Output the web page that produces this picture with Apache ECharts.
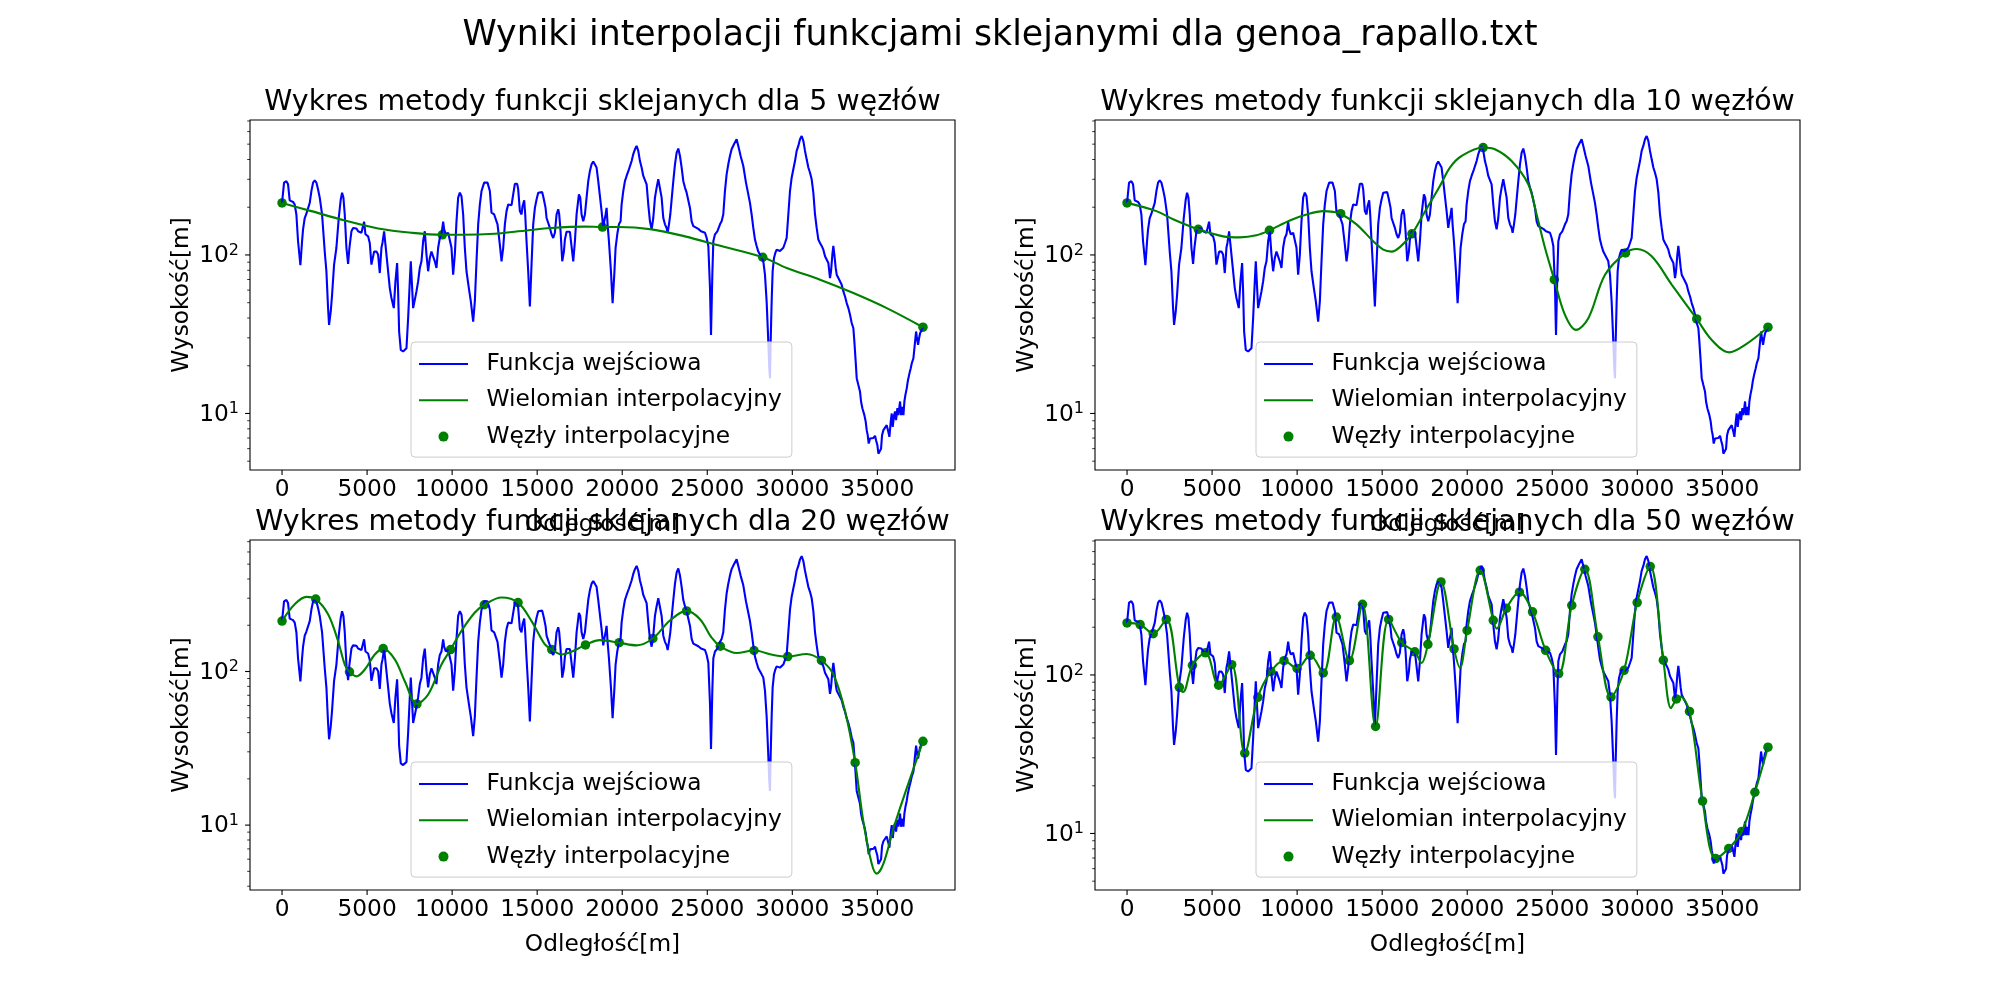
<!DOCTYPE html>
<html>
<head>
<meta charset="utf-8">
<title>Wyniki interpolacji funkcjami sklejanymi dla genoa_rapallo.txt</title>
<script src="https://cdn.jsdelivr.net/npm/echarts@6/dist/echarts.min.js"></script>
<style>
html, body { margin: 0; padding: 0; background: #fff; }
#chart { width: 2000px; height: 1000px; }
</style>
</head>
<body>
<div id="chart"></div>
<script>
// elevation profile Genoa -> Rapallo, [distance m, height m]
var profile = [
[0,213],[118,286],[255,292],[353,279],[451,221],[647,216],[745,208],[843,180],[941,122],[1079,86.1],[1177,122],[1235,145],[1333,171],[1432,182],[1530,185],[1628,213],[1726,253],[1824,286],[1922,295],[2020,286],[2118,259],[2216,230],[2353,180],[2510,105],[2608,78.9],[2706,46.2],[2765,36.2],[2863,44.0],[2942,56.1],[3059,86.9],[3196,111],[3334,171],[3451,224],[3530,247],[3608,230],[3687,180],[3785,111],[3883,87.7],[3961,111],[4079,141],[4177,148],[4275,145],[4373,147],[4471,141],[4569,145],[4667,138],[4765,141],[4824,162],[4903,135],[5059,131],[5157,119],[5255,86.9],[5354,86.9],[5412,105],[5550,105],[5648,100.5],[5746,76.9],[5844,111],[5903,119],[6001,141],[6079,116],[6197,86.9],[6334,61.8],[6432,53.5],[6569,46.2],[6667,68.1],[6765,89.0],[6824,58.9],[6883,32.9],[6981,25.2],[7118,24.6],[7216,25.2],[7315,25.8],[7413,39.9],[7511,68.1],[7569,91.2],[7648,61.8],[7707,46.2],[7805,52.1],[7903,58.9],[8001,68.1],[8099,82.8],[8197,91.2],[8295,122],[8393,141],[8491,100.5],[8589,78.9],[8687,95.8],[8785,105],[8883,108],[8981,91.2],[9079,82.8],[9177,111],[9275,128],[9374,135],[9472,162],[9530,145],[9629,135],[9766,138],[9864,138],[9962,111],[10060,75.1],[10158,100.5],[10256,163],[10354,230],[10452,247],[10550,235],[10648,180],[10746,111],[10844,78.9],[10982,61.8],[11099,50.9],[11236,38.0],[11335,50.9],[11433,91.2],[11531,156],[11629,208],[11727,253],[11884,286],[11962,292],[12080,286],[12217,253],[12315,185],[12472,180],[12570,176],[12668,156],[12805,116],[12904,91.2],[13002,111],[13100,156],[13198,189],[13296,208],[13394,210],[13492,206],[13590,241],[13688,281],[13825,281],[13884,259],[13982,189],[14080,180],[14139,203],[14237,221],[14296,180],[14374,122],[14472,78.9],[14570,47.3],[14668,86.9],[14766,156],[14865,198],[14963,224],[15061,247],[15159,249],[15296,249],[15394,224],[15492,198],[15551,171],[15649,176],[15747,148],[15845,135],[15943,128],[16041,138],[16139,180],[16237,194],[16296,180],[16374,141],[16473,91.2],[16571,105],[16629,125],[16727,140],[16826,141],[16924,140],[17022,138],[17120,91.2],[17218,122],[17316,180],[17453,241],[17531,230],[17610,180],[17708,163],[17806,180],[17904,230],[18002,292],[18100,339],[18198,373],[18296,388],[18394,391],[18492,356],[18590,292],[18688,235],[18787,189],[18885,148],[18943,163],[19022,180],[19081,198],[19139,156],[19218,122],[19336,78.9],[19434,49.7],[19532,75.1],[19610,111],[19708,135],[19806,156],[19904,163],[19963,208],[20061,253],[20159,292],[20257,315],[20395,347],[20551,391],[20649,432],[20748,464],[20846,487],[20944,453],[21042,391],[21140,356],[21238,315],[21336,307],[21434,279],[21532,208],[21630,163],[21728,145],[21826,171],[21924,230],[22022,266],[22120,300],[22218,292],[22316,230],[22414,171],[22512,156],[22610,148],[22669,138],[22748,156],[22826,180],[22905,224],[23003,292],[23101,373],[23199,442],[23297,469],[23395,421],[23493,356],[23591,292],[23689,266],[23787,247],[23885,253],[23983,198],[24081,163],[24179,152],[24277,148],[24473,146],[24630,141],[24709,143],[24866,138],[24964,128],[25062,114],[25160,61.8],[25219,31.3],[25297,75.1],[25356,122],[25454,135],[25591,141],[25748,156],[25843,163],[25941,180],[26039,253],[26137,322],[26235,373],[26333,421],[26431,464],[26569,499],[26726,537],[26824,487],[26961,421],[27118,364],[27275,286],[27412,241],[27510,213],[27608,180],[27706,148],[27804,125],[27902,114],[28000,105],[28098,103],[28196,95.8],[28294,91.2],[28392,75.1],[28490,50.9],[28588,28.4],[28647,19.3],[28687,16.7],[28726,28.4],[28785,50.9],[28843,78.9],[28922,95.8],[29000,103],[29079,108],[29177,105],[29275,106],[29373,105],[29471,111],[29569,119],[29667,128],[29765,180],[29863,253],[29961,307],[30059,347],[30157,391],[30255,453],[30353,487],[30451,537],[30549,563],[30648,524],[30746,453],[30844,401],[30942,356],[31040,330],[31138,300],[31236,247],[31334,180],[31432,148],[31530,125],[31628,119],[31726,114],[31824,108],[31922,98.2],[32020,95.8],[32118,89.0],[32216,71.5],[32275,78.9],[32354,100.5],[32412,114],[32471,100.5],[32550,82.8],[32609,75.1],[32707,71.5],[32805,69.8],[32903,64.9],[33001,58.9],[33099,54.7],[33197,49.7],[33295,46.2],[33393,41.9],[33491,37.2],[33589,34.5],[33648,28.4],[33726,21.2],[33785,16.7],[33883,15.1],[33981,13.7],[34040,11.9],[34118,10.8],[34177,11.0],[34236,9.76],[34315,8.86],[34373,7.85],[34432,7.30],[34491,6.46],[34570,6.95],[34668,7.12],[34766,7.01],[34864,7.23],[34922,6.78],[35001,6.31],[35060,5.58],[35158,5.66],[35217,6.00],[35276,7.30],[35354,7.85],[35452,8.04],[35550,8.44],[35648,7.65],[35707,7.12],[35785,8.86],[35844,10.0],[35903,8.24],[35981,9.76],[36040,10.3],[36099,9.07],[36178,10.8],[36236,9.76],[36334,11.9],[36393,9.76],[36472,11.0],[36531,9.76],[36589,11.9],[36648,13.1],[36727,14.4],[36785,15.9],[36884,17.9],[36962,19.3],[37021,20.7],[37119,22.3],[37217,28.4],[37276,32.9],[37315,30.6],[37393,27.1],[37452,29.8],[37511,32.1],[37609,33.7],[37680,35.0]
];

// interpolation nodes
var nodes5 = [[0,213],[9420,134],[18840,150],[28260,96.7],[37680,35]];
var nodes10 = [[0,213],[4187,145],[8373,143],[12560,182],[16747,136],[20933,476],[25120,69.8],[29307,103],[33493,39.5],[37680,35]];
var nodes20 = [[0,213],[1982,296],[3964,99.5],[5946,141],[7928,61.5],[9910,139],[11892,272],[13874,281],[15856,139],[17838,149],[19820,154],[21802,164],[23784,248],[25766,146],[27748,137],[29730,125],[31712,118],[33694,25.5],[37680,35.1]];
var nodes50 = [[0,213],[769,208],[1538,182],[2307,224],[3076,83.5],[3845,115],[4614,138],[5383,86.1],[6152,116],[6921,32.1],[7690,72.3],[8459,105],[9228,123],[9997,110],[10766,133],[11535,103],[12304,232],[13073,123],[13842,279],[14611,47.3],[15380,224],[16149,160],[16918,140],[17687,156],[18456,386],[19225,146],[19994,191],[20763,457],[21532,221],[22301,263],[23070,333],[23839,250],[24608,143],[25377,102],[26146,275],[26915,464],[27684,174],[28453,72.6],[29222,107],[29991,286],[30760,483],[31529,124],[32298,70.5],[33067,58.9],[33836,16.0],[34605,6.95],[35374,8.04],[36143,10.3],[36912,18.2],[37680,35.0]];

// spline values read between the nodes
var curve5Extra = [[1726,189],[3687,165],[5648,147],[7609,138],[10550,134],[12511,136],[13884,141],[15845,148],[17806,151],[19767,150],[21728,145],[23689,131],[25650,115],[29667,82.8],[31628,69.8],[33589,57.5],[35550,46.2]];
var curve10Extra = [[1726,189],[2706,168],[5648,131],[6628,129],[7609,133],[9570,165],[10550,180],[11531,189],[12119,187],[13492,156],[14472,122],[15061,108],[15551,105],[16041,112],[17414,180],[18394,272],[18982,356],[19668,421],[21629,464],[22609,391],[23590,279],[24080,180],[24570,111],[25747,41.9],[26394,33.7],[27120,39.9],[28100,75],[29963,109],[30845,98],[32021,65],[34375,29.1],[35395,24.3],[36336,27.1]];
var curve20Extra = [[745,274],[1432,306],[2706,236],[3294,158],[3687,111],[4373,93],[4863,103],[5452,129],[6628,120],[7216,86.5],[8589,70.8],[9374,111],[10550,184],[11335,242],[12903,303],[14668,213],[15453,150],[16433,129],[17120,136],[18687,160],[20844,148],[22805,215],[24570,219],[25256,166],[26727,132],[28884,128],[30845,130],[32414,95.6],[33100,55.1],[34179,10.5],[34669,5.61],[34963,4.83],[35356,5.61],[35944,9.5],[36728,17.4]];
var curve50Extra = [[3294,78],[17316,119],[19571,111],[21728,196],[31981,61.8],[32510,73.2]];

var nodeCounts = [5, 10, 20, 50];
var xTicks = [0, 5000, 10000, 15000, 20000, 25000, 30000, 35000];
var yMajor = [10, 100];
var yMinor = [2,3,4,5,6,7,8,9,20,30,40,50,60,70,80,90,200,300,400,500,600,700,800,900];

var FONT = 'DejaVu Sans';
var FS = 23.3;
var X_MIN = -1884, X_MAX = 39564;
var LINE_ICON = 'path://M0,0L49,0L49,2.1L0,2.1Z';

var panels = [
    {left: 250, top: 120, nodes: nodes5, extra: curve5Extra, yMin: 4.40, yMax: 710},
    {left: 1095, top: 120, nodes: nodes10, extra: curve10Extra, yMin: 4.40, yMax: 710},
    {left: 250, top: 540, nodes: nodes20, extra: curve20Extra, yMin: 3.78, yMax: 718},
    {left: 1095, top: 540, nodes: nodes50, extra: curve50Extra, yMin: 4.40, yMax: 710}
];
var W = 705, H = 350;

function merged(nodes, extra) {
    return nodes.concat(extra).sort(function (a, b) { return a[0] - b[0]; });
}

// matplotlib-like outward ticks (major x, major y, minor y)
function tickRenderer(yMin) {
    return function (params, api) {
        var kind = api.value(0), v = api.value(1), p, shape;
        if (kind === 0) {
            p = api.coord([v, yMin]);
            shape = {x1: p[0], y1: p[1], x2: p[0], y2: p[1] + 4.9};
        } else {
            p = api.coord([X_MIN, v]);
            var len = kind === 1 ? 4.9 : 2.8;
            shape = {x1: p[0] - len, y1: p[1], x2: p[0], y2: p[1]};
        }
        return {type: 'line', shape: shape, style: {stroke: '#000', lineWidth: kind === 2 ? 0.8 : 1.1}};
    };
}

var grids = [], xAxes = [], yAxes = [], series = [], legends = [], texts = [];

texts.push({
    type: 'text', x: 1000, y: 36,
    style: {text: 'Wyniki interpolacji funkcjami sklejanymi dla genoa_rapallo.txt', font: '34.7px "DejaVu Sans"', fill: '#000',
        align: 'center', verticalAlign: 'middle', textAlign: 'center', textVerticalAlign: 'middle'}
});

panels.forEach(function (p, i) {
    grids.push({left: p.left, top: p.top, width: W, height: H, show: true, borderColor: '#000', borderWidth: 1.1, containLabel: false});
    xAxes.push({
        type: 'value', gridIndex: i, min: X_MIN, max: X_MAX, splitNumber: 8,
        name: 'Odległość[m]', nameLocation: 'middle', nameGap: 43,
        nameTextStyle: {fontSize: FS, fontFamily: FONT, color: '#000'},
        axisLine: {show: false}, axisTick: {show: false}, splitLine: {show: false},
        axisLabel: {
            fontSize: FS, fontFamily: FONT, color: '#000', margin: 8,
            showMinLabel: false, showMaxLabel: false,
            formatter: function (v) { return (v >= 0 && v % 5000 === 0) ? String(v) : ''; }
        }
    });
    yAxes.push({
        type: 'log', logBase: 10, gridIndex: i, min: p.yMin, max: p.yMax,
        name: 'Wysokość[m]', nameLocation: 'middle', nameGap: 57, nameRotate: 90,
        nameTextStyle: {fontSize: FS, fontFamily: FONT, color: '#000'},
        axisLine: {show: false}, axisTick: {show: false}, splitLine: {show: false}, minorTick: {show: false},
        axisLabel: {
            fontSize: FS, fontFamily: FONT, color: '#000', margin: 11,
            formatter: function (v) {
                var e = Math.log10(v);
                if (Math.abs(e - Math.round(e)) < 1e-6) return '{b|10}{s|' + Math.round(e) + '}';
                return '';
            },
            rich: {
                b: {fontSize: FS, fontFamily: FONT, color: '#000', lineHeight: 25, verticalAlign: 'bottom'},
                s: {fontSize: 16, fontFamily: FONT, color: '#000', verticalAlign: 'top'}
            }
        }
    });
    series.push({
        type: 'line', name: 'Funkcja wejściowa', xAxisIndex: i, yAxisIndex: i, data: profile,
        symbol: 'none', showSymbol: false, lineStyle: {color: '#0000ff', width: 2.1}, itemStyle: {color: '#0000ff'}
    });
    series.push({
        type: 'line', name: 'Wielomian interpolacyjny', xAxisIndex: i, yAxisIndex: i, data: merged(p.nodes, p.extra),
        smooth: 0.35, symbol: 'none', showSymbol: false, lineStyle: {color: '#008000', width: 2.1}, itemStyle: {color: '#008000'}
    });
    series.push({
        type: 'scatter', name: 'Węzły interpolacyjne', xAxisIndex: i, yAxisIndex: i, data: p.nodes,
        symbolSize: 9.5, itemStyle: {color: '#008000', opacity: 1}
    });
    var tickData = xTicks.map(function (v) { return [0, v]; })
        .concat(yMajor.map(function (v) { return [1, v]; }))
        .concat(yMinor.filter(function (v) { return v > p.yMin && v < p.yMax; }).map(function (v) { return [2, v]; }));
    series.push({
        type: 'custom', name: 'ticks' + i, xAxisIndex: i, yAxisIndex: i, data: tickData,
        renderItem: tickRenderer(p.yMin), silent: true, clip: false, z: 5
    });
    legends.push({
        orient: 'vertical', left: p.left + 161, top: p.top + 222,
        data: [
            {name: 'Funkcja wejściowa', icon: LINE_ICON},
            {name: 'Wielomian interpolacyjny', icon: LINE_ICON},
            {name: 'Węzły interpolacyjne', icon: 'circle'}
        ],
        itemWidth: 49, itemHeight: 10, itemGap: 13.3,
        padding: [10.5, 10, 9, 8],
        backgroundColor: 'rgba(255,255,255,0.8)', borderColor: '#cccccc', borderWidth: 1, borderRadius: 4,
        selectedMode: false,
        textStyle: {fontSize: FS, fontFamily: FONT, color: '#000', padding: [0, 0, 0, 13.5]}
    });
    texts.push({
        type: 'text', x: p.left + W / 2, y: p.top - 17,
        style: {text: 'Wykres metody funkcji sklejanych dla ' + nodeCounts[i] + ' węzłów', font: '28.4px "DejaVu Sans"', fill: '#000',
            align: 'center', verticalAlign: 'middle', textAlign: 'center', textVerticalAlign: 'middle'}
    });
});

var chart = echarts.init(document.getElementById('chart'), null, {renderer: 'canvas'});
chart.setOption({
    backgroundColor: '#fff',
    animation: false,
    textStyle: {fontFamily: FONT},
    grid: grids,
    xAxis: xAxes,
    yAxis: yAxes,
    legend: legends,
    series: series,
    graphic: texts
});
</script>
</body>
</html>
